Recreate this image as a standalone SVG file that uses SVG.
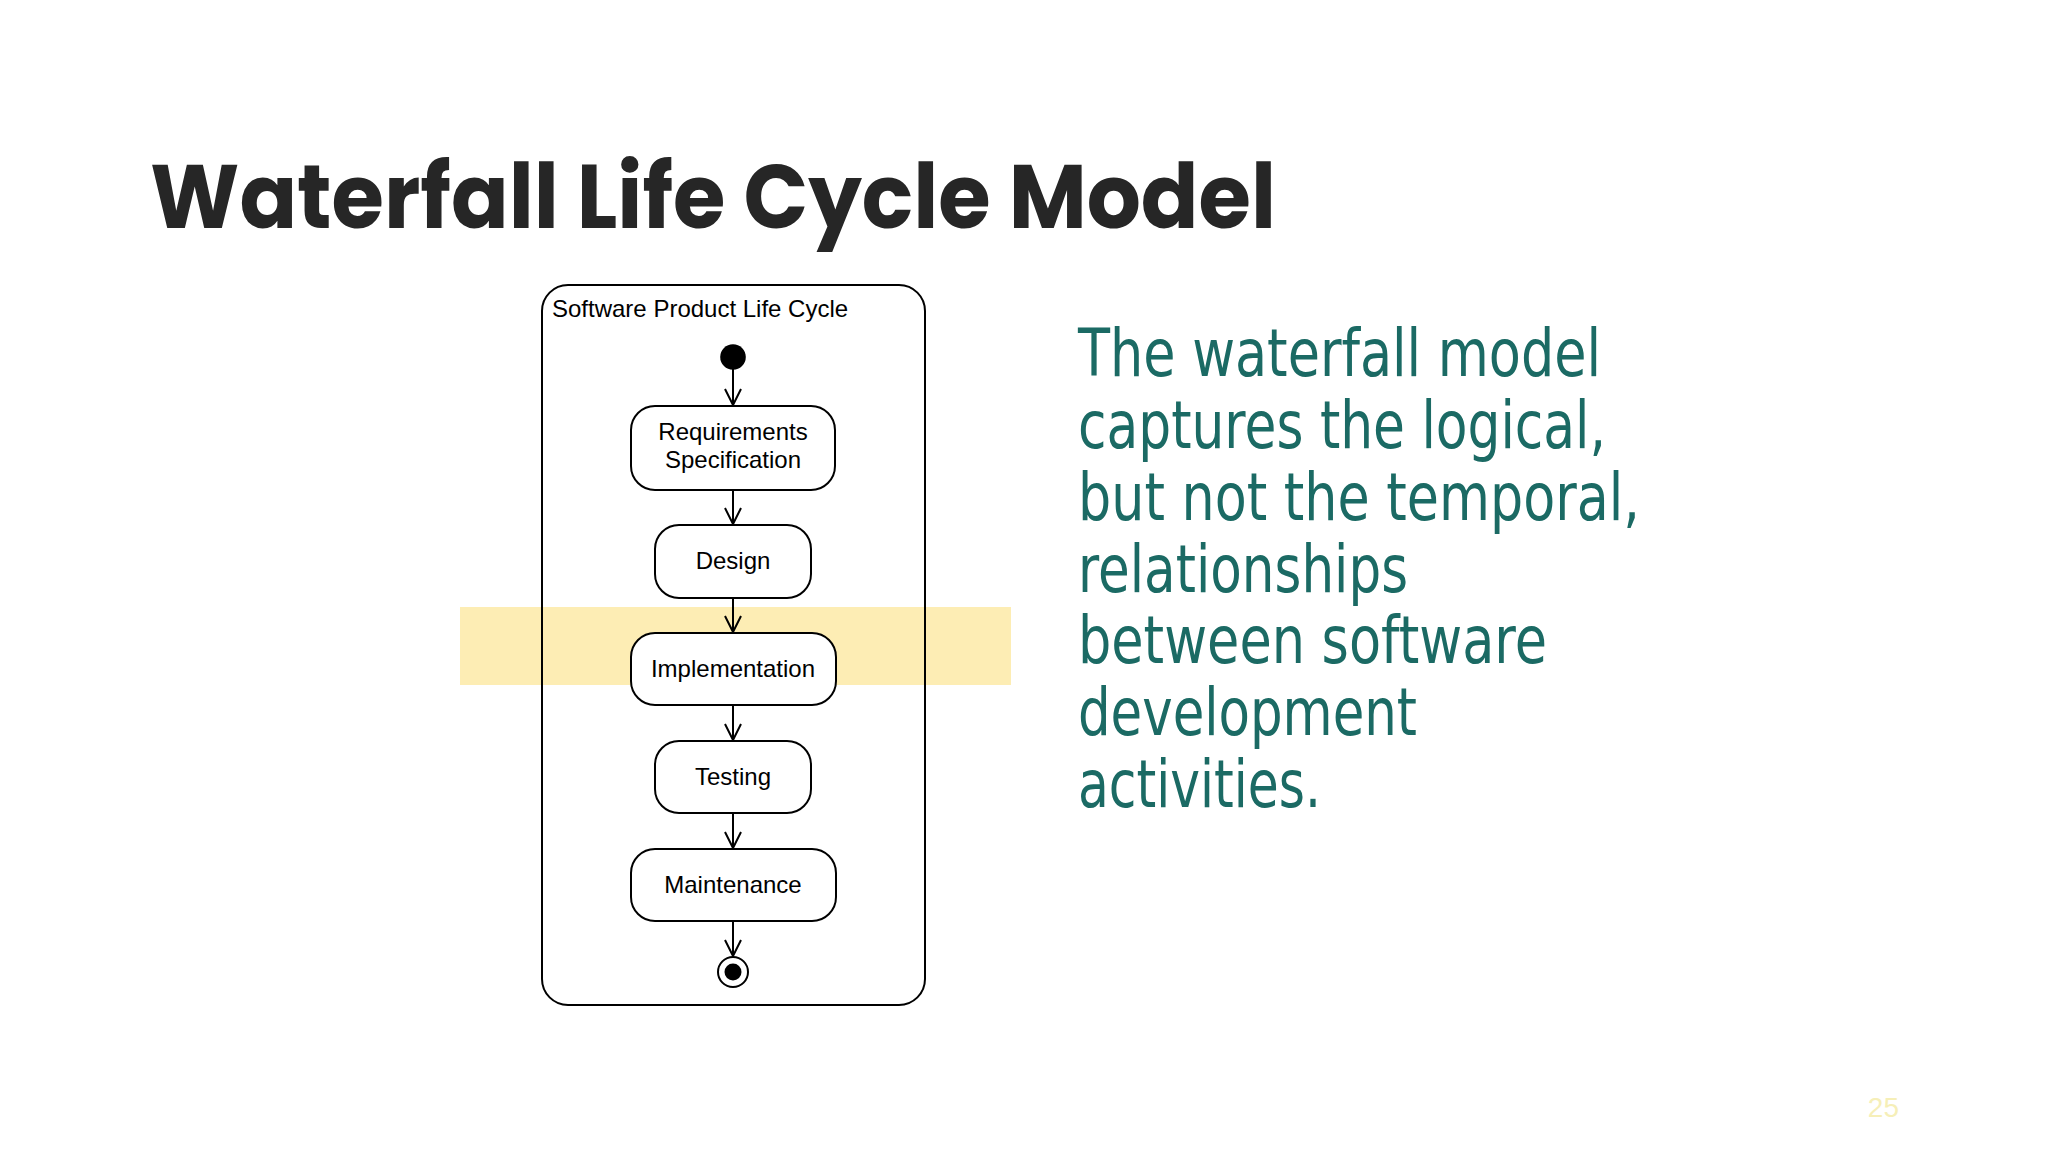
<svg xmlns="http://www.w3.org/2000/svg" width="2048" height="1152" viewBox="0 0 2048 1152">
<style>
.title{font-family:Poppins,"Inter","Liberation Sans",sans-serif;font-weight:700;font-size:89px;fill:#262626}
.lbl{font-family:"Liberation Sans",Arial,sans-serif;font-size:24px;fill:#000;text-anchor:middle}
.frame-lbl{font-family:"Liberation Sans",Arial,sans-serif;font-size:24px;fill:#000}
.node{fill:#fff;stroke:#000;stroke-width:2}
.edge{stroke:#000;stroke-width:2;fill:none}
.body{font-family:Tahoma,"DejaVu Sans",sans-serif;font-size:65px;fill:#1b6a64}
</style>
<defs>
<marker id="arr" markerUnits="userSpaceOnUse" markerWidth="24" markerHeight="24" viewBox="-12 -12 24 24" refX="0" refY="0" orient="auto" overflow="visible">
<path d="M-16,-8 L0,0 L-16,8" fill="none" stroke="#000" stroke-width="2"/>
</marker>
</defs>
<rect width="2048" height="1152" fill="#fff"/>
<text class="title" x="150" y="228" textLength="1126" lengthAdjust="spacingAndGlyphs">Waterfall Life Cycle Model</text>
<rect id="highlight" x="460" y="607" width="551" height="78" fill="#fdedb4"/>
<g id="frame">
<rect x="542" y="285" width="383" height="720" rx="26" ry="26" fill="none" stroke="#000" stroke-width="2"/>
<text class="frame-lbl" x="552" y="317">Software Product Life Cycle</text>
</g>
<g id="connectors">
<line class="edge" x1="733" y1="369" x2="733" y2="405" marker-end="url(#arr)"/>
<line class="edge" x1="733" y1="490" x2="733" y2="524" marker-end="url(#arr)"/>
<line class="edge" x1="733" y1="598" x2="733" y2="632" marker-end="url(#arr)"/>
<line class="edge" x1="733" y1="705" x2="733" y2="740" marker-end="url(#arr)"/>
<line class="edge" x1="733" y1="813" x2="733" y2="848" marker-end="url(#arr)"/>
<line class="edge" x1="733" y1="921" x2="733" y2="956" marker-end="url(#arr)"/>
</g>
<g id="initial"><circle cx="733" cy="357" r="12.8" fill="#000"/></g>
<g id="requirements">
<rect class="node" x="631" y="406" width="204" height="84" rx="24"/>
<text class="lbl" x="733" y="440">Requirements</text>
<text class="lbl" x="733" y="468">Specification</text>
</g>
<g id="design">
<rect class="node" x="655" y="525" width="156" height="73" rx="24"/>
<text class="lbl" x="733" y="569">Design</text>
</g>
<g id="implementation">
<rect class="node" x="631" y="633" width="205" height="72" rx="24"/>
<text class="lbl" x="733" y="677">Implementation</text>
</g>
<g id="testing">
<rect class="node" x="655" y="741" width="156" height="72" rx="24"/>
<text class="lbl" x="733" y="785">Testing</text>
</g>
<g id="maintenance">
<rect class="node" x="631" y="849" width="205" height="72" rx="24"/>
<text class="lbl" x="733" y="893">Maintenance</text>
</g>
<g id="final">
<circle cx="733" cy="972" r="15" fill="#fff" stroke="#000" stroke-width="2"/>
<circle cx="733" cy="972" r="8.5" fill="#000"/>
</g>
<g id="description">
<text class="body" x="1078" y="376" textLength="523" lengthAdjust="spacingAndGlyphs">The waterfall model</text>
<text class="body" x="1078" y="448" textLength="528" lengthAdjust="spacingAndGlyphs">captures the logical,</text>
<text class="body" x="1078" y="520" textLength="562" lengthAdjust="spacingAndGlyphs">but not the temporal,</text>
<text class="body" x="1078" y="592" textLength="330" lengthAdjust="spacingAndGlyphs">relationships</text>
<text class="body" x="1078" y="663" textLength="469" lengthAdjust="spacingAndGlyphs">between software</text>
<text class="body" x="1078" y="735" textLength="339" lengthAdjust="spacingAndGlyphs">development</text>
<text class="body" x="1078" y="807" textLength="243" lengthAdjust="spacingAndGlyphs">activities.</text>
</g>
<text x="1899" y="1117" text-anchor="end" font-family="'Liberation Sans',Arial,sans-serif" font-size="28" fill="#f6efb8">25</text>
</svg>
